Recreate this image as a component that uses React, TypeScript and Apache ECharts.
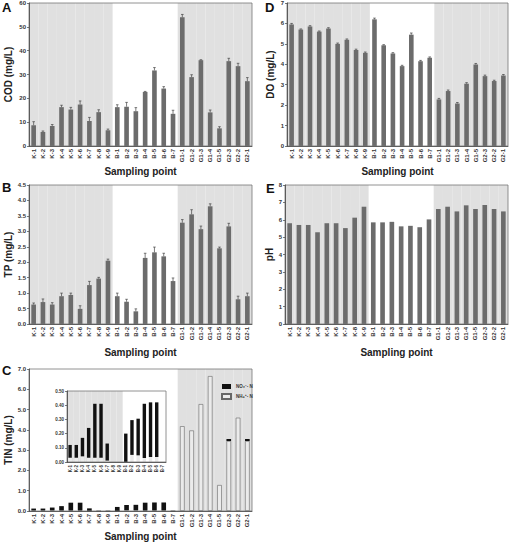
import React, { useEffect, useRef } from "react";
import * as echarts from "echarts";

const categories = ["K-1","K-2","K-3","K-4","K-5","K-6","K-7","K-8","K-9","B-1","B-2","B-3","B-4","B-5","B-6","B-7","G1-1","G1-2","G1-3","G1-4","G1-5","G2-3","G2-2","G2-1"];
const insetCategories = categories.slice(0, 16);

const COD = [8.7,5.9,8.4,16.3,15.3,17.4,10.5,14.2,6.6,16.3,16.5,14.6,22.7,31.7,24.1,13.5,54.0,28.9,36.0,14.1,7.4,35.6,33.5,27.2];
const CODerr = [1.5,0.4,0.6,0.8,0.9,1.5,1.5,1.0,0.5,1.0,1.8,1.5,0.2,1.2,0.8,1.5,1.2,1.0,0.2,1.0,0.7,1.2,1.2,1.5];
const TP = [0.63,0.71,0.63,0.9,0.94,0.49,1.26,1.47,2.05,0.9,0.72,0.41,2.14,2.32,2.19,1.39,3.28,3.55,3.07,3.81,2.45,3.16,0.8,0.9];
const TPerr = [0.05,0.1,0.06,0.1,0.06,0.1,0.12,0.04,0.05,0.1,0.08,0.08,0.15,0.17,0.1,0.1,0.1,0.15,0.1,0.08,0.04,0.1,0.1,0.1];
const DO = [5.95,5.7,5.85,5.6,5.75,5.0,5.2,4.7,4.56,6.2,4.93,4.53,3.91,5.45,4.15,4.32,2.28,2.69,2.08,3.05,3.99,3.42,3.18,3.45];
const DOerr = [0.05,0.03,0.04,0.03,0.04,0.04,0.04,0.04,0.04,0.06,0.03,0.04,0.04,0.08,0.04,0.04,0.05,0.05,0.05,0.05,0.05,0.05,0.04,0.05];
const PH = [5.8,5.7,5.7,5.28,5.8,5.8,5.52,6.12,6.75,5.85,5.85,5.88,5.62,5.65,5.57,6.02,6.62,6.75,6.48,6.83,6.62,6.85,6.62,6.48];
const NH4 = [0.03,0.03,0.04,0.03,0.03,0.03,0.01,0,0,0,0.05,0.047,0.028,0.035,0.035,0,4.18,3.97,5.27,6.65,1.28,3.45,4.6,3.45];
const NO3 = [0.09,0.09,0.13,0.21,0.38,0.38,0.12,0,0,0.2,0.245,0.258,0.382,0.385,0.385,0,0,0,0,0,0,0.1,0,0.1];

const NO3_NAME = "NO\u2083\u207B- N";
const NH4_NAME = "NH\u2084\u207A- N";

const FONT = "Arial, 'Liberation Sans', sans-serif";
const BAR = "#6c6c6c";
const SHADE = "#e0e0e0";

const shadeKG = (c: string) => c.startsWith("K") || c.startsWith("G");
const shadeG = (c: string) => c.startsWith("G");

export default function App() {
  const ref = useRef<HTMLDivElement>(null);
  useEffect(() => {
    if (!ref.current) return;
    const chart = echarts.init(ref.current, undefined, { renderer: "svg" });

    const grids: any[] = [];
    const xAxes: any[] = [];
    const yAxes: any[] = [];
    const series: any[] = [];

    const errRender = (params: any, api: any) => {
      const i = api.value(0);
      const v = api.value(1);
      const e = api.value(2);
      const top = api.coord([i, v + e]);
      const bot = api.coord([i, v]);
      const hw = 1.3;
      const st = { stroke: "#444", lineWidth: 0.7 };
      return {
        type: "group",
        children: [
          { type: "line", shape: { x1: top[0], y1: top[1], x2: bot[0], y2: bot[1] }, style: st },
          { type: "line", shape: { x1: top[0] - hw, y1: top[1], x2: top[0] + hw, y2: top[1] }, style: st },
        ],
      };
    };

    const addPanel = (cfg: any) => {
      const gi = grids.length;
      grids.push({ ...cfg.grid, show: true, borderColor: "#777", borderWidth: 0.8, backgroundColor: "transparent", z: 10 });
      const cats = cfg.cats;
      const xi = xAxes.length;
      xAxes.push({
        type: "category", gridIndex: gi, data: cats,
        name: cfg.xName, nameLocation: "middle", nameGap: cfg.xNameGap,
        nameTextStyle: { fontFamily: FONT, fontWeight: "bold", fontSize: 10, color: "#222" },
        axisLine: { show: true, lineStyle: { color: "#444", width: 0.8 } },
        axisTick: { show: false },
        axisLabel: { rotate: 90, fontSize: cfg.xLabelSize, fontFamily: FONT, fontWeight: "bold", color: "#333", margin: 3, interval: 0 },
        z: 11,
      });
      xAxes.push({ type: "category", gridIndex: gi, data: cats, show: false });
      const yi = yAxes.length;
      yAxes.push({
        type: "value", gridIndex: gi, min: 0, max: cfg.max, interval: cfg.interval,
        name: cfg.yName, nameLocation: "middle", nameGap: cfg.yNameGap, nameRotate: 90,
        nameTextStyle: { fontFamily: FONT, fontWeight: "bold", fontSize: 10, color: "#222" },
        axisLine: { show: true, lineStyle: { color: "#444", width: 0.8 } },
        axisTick: { show: true, length: 2, lineStyle: { color: "#444", width: 0.7 } },
        splitLine: { show: false },
        axisLabel: { fontSize: cfg.yLabelSize, fontFamily: FONT, fontWeight: "bold", color: "#333", margin: 3,
          formatter: (v: number) => (cfg.decimals ? v.toFixed(cfg.decimals) : String(v)) },
        z: 11,
      });
      const shade = cfg.shade || shadeKG;
      series.push({
        type: "bar", xAxisIndex: xi + 1, yAxisIndex: yi, barWidth: "100%", silent: true, z: 1,
        itemStyle: { color: SHADE },
        data: cats.map((c: string) => (shade(c) ? cfg.max : "-")),
      });
      return { xi, yi };
    };

    const simple = (grid: any, vals: number[], errs: number[] | null, o: any) => {
      const { xi, yi } = addPanel({ grid, cats: categories, xName: "Sampling point", xLabelSize: 6, yLabelSize: 6, ...o });
      series.push({ type: "bar", xAxisIndex: xi, yAxisIndex: yi, barWidth: "50%", z: 3, itemStyle: { color: BAR }, data: vals });
      if (errs) {
        series.push({
          type: "custom", xAxisIndex: xi, yAxisIndex: yi, z: 4, renderItem: errRender,
          encode: { x: 0, y: 1 }, data: vals.map((v, i) => [i, v, errs[i]]),
        });
      }
    };

    simple({ left: 29, top: 3, width: 223, height: 143 }, COD, CODerr, { max: 60, interval: 10, yName: "COD (mg/L)", yNameGap: 16, xNameGap: 16 });
    simple({ left: 287, top: 3, width: 221, height: 143 }, DO, DOerr, { max: 7, interval: 1, yName: "DO (mg/L)", yNameGap: 12, xNameGap: 16 });
    simple({ left: 29, top: 185, width: 223, height: 139 }, TP, TPerr, { max: 4.5, interval: 0.5, decimals: 1, yName: "TP (mg/L)", yNameGap: 16, xNameGap: 23 });
    simple({ left: 285, top: 185, width: 223, height: 139 }, PH, null, { max: 8, interval: 1, yName: "pH", yNameGap: 10, xNameGap: 23 });

    // Panel C main
    const c = addPanel({ grid: { left: 29, top: 369, width: 223, height: 142 }, cats: categories, xName: "Sampling point", xNameGap: 20, xLabelSize: 6, yLabelSize: 6,
      max: 7, interval: 1, decimals: 1, yName: "TIN (mg/L)", yNameGap: 16, shade: shadeG });
    series.push({ name: NH4_NAME, type: "bar", stack: "c", xAxisIndex: c.xi, yAxisIndex: c.yi, barWidth: "50%", z: 3,
      itemStyle: { color: "#ebebeb", borderColor: "#666", borderWidth: 0.6 }, data: NH4 });
    series.push({ name: NO3_NAME, type: "bar", stack: "c", xAxisIndex: c.xi, yAxisIndex: c.yi, barWidth: "50%", z: 3,
      itemStyle: { color: "#111" }, data: NO3 });

    // Inset
    const ins = addPanel({ grid: { left: 67, top: 391, width: 99, height: 71 }, cats: insetCategories, xName: "", xNameGap: 0, xLabelSize: 4.5, yLabelSize: 4.5,
      max: 0.5, interval: 0.1, decimals: 2, yName: "", yNameGap: 0 });
    series.push({ name: NH4_NAME, type: "bar", stack: "i", xAxisIndex: ins.xi, yAxisIndex: ins.yi, barWidth: "55%", z: 3,
      itemStyle: { color: "#ebebeb" }, data: NH4.slice(0, 16) });
    series.push({ name: NO3_NAME, type: "bar", stack: "i", xAxisIndex: ins.xi, yAxisIndex: ins.yi, barWidth: "55%", z: 3,
      itemStyle: { color: "#111" }, data: NO3.slice(0, 16) });

    const letter = (t: string, x: number, y: number) => ({
      type: "text", left: x, top: y, z: 20,
      style: { text: t, fontFamily: FONT, fontWeight: "bold", fontSize: 13, fill: "#111" },
    });

    chart.setOption({
      animation: false,
      backgroundColor: "#fff",
      textStyle: { fontFamily: FONT },
      grid: grids,
      xAxis: xAxes,
      yAxis: yAxes,
      series,
      legend: {
        data: [NO3_NAME, NH4_NAME], orient: "vertical", left: 216, top: 379, itemWidth: 9, itemHeight: 5, itemGap: 4,
        icon: "rect", textStyle: { fontSize: 4.5, fontFamily: FONT, fontWeight: "bold", color: "#333" }, z: 20,
      },
      graphic: [letter("A", 2, 1), letter("D", 265, 1), letter("B", 2, 181), letter("E", 266, 182), letter("C", 2, 364)],
    });
    return () => chart.dispose();
  }, []);
  return <div ref={ref} style={{ position: "fixed", left: 0, top: 0, width: 509, height: 543 }} />;
}
